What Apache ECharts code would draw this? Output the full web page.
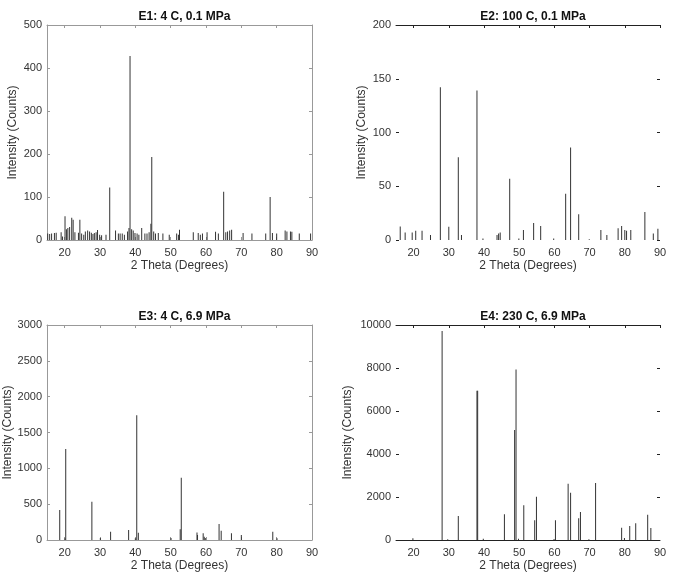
<!DOCTYPE html>
<html>
<head>
<meta charset="utf-8">
<script src="https://cdn.jsdelivr.net/npm/echarts@6/dist/echarts.min.js"></script>
<style>
  html, body { margin: 0; padding: 0; background: #fff; }
  #chart { width: 675px; height: 583px; }
</style>
</head>
<body>
<div id="chart"></div>
<script>
// peak positions (2 theta) and intensities
var titles = ['E1: 4 C, 0.1 MPa', 'E2: 100 C, 0.1 MPa', 'E3: 4 C, 6.9 MPa', 'E4: 230 C, 6.9 MPa'];
var xTicks = [20, 30, 40, 50, 60, 70, 80, 90];
var yMax = [500, 200, 3000, 10000];
var yStep = [100, 50, 500, 2000];

var theta1 = [15.2, 15.75, 16.3, 17.1, 17.6, 19.0, 19.4, 20.1, 20.5, 20.9, 21.4, 22.0, 22.4, 22.9, 23.9, 24.3, 24.8, 25.4, 25.85, 26.5,
  27.05, 27.55, 28.0, 28.4, 28.9, 29.3, 29.9, 30.45, 31.7, 32.75, 34.4, 35.2, 35.7, 36.3, 36.9, 37.8, 38.2, 38.5, 38.95, 39.4,
  39.9, 40.5, 41.0, 41.8, 42.7, 43.3, 43.9, 44.4, 44.65, 45.2, 45.7, 46.5, 47.8, 49.6, 51.7, 52.2, 52.5, 56.4, 57.8, 58.4,
  59.0, 60.3, 62.7, 63.5, 65.0, 65.6, 66.1, 66.7, 67.25, 70.5, 73.0, 76.9, 78.15, 78.8, 80.0, 82.4, 82.9, 83.9, 84.3, 86.4, 89.6];
var counts1 = [15, 14, 15, 16, 17, 18, 8, 55, 25, 28, 30, 52, 47, 18, 17, 47, 15, 12, 20, 22,
  20, 17, 14, 16, 18, 23, 12, 11, 12, 122, 22, 15, 15, 15, 12, 20, 28, 428, 25, 22,
  16, 15, 12, 28, 15, 15, 18, 38, 193, 20, 15, 16, 15, 12, 15, 12, 24, 18, 16, 12,
  15, 18, 19, 15, 112, 18, 20, 22, 24, 16, 15, 15, 100, 16, 15, 22, 20, 20, 19, 15, 15];

var theta2 = [16.2, 17.6, 19.6, 20.6, 22.4, 24.8, 27.6, 30.0, 32.7, 33.6, 38.0, 39.7, 43.7, 44.15, 44.6, 47.3, 49.9, 51.2, 54.1, 56.1,
  59.8, 63.2, 64.6, 66.9, 69.9, 73.2, 74.9, 78.1, 79.1, 80.0, 80.5, 81.7, 85.7, 88.1, 89.4];
var counts2 = [12.5, 7, 7, 8.5, 8.7, 4.7, 142, 12.4, 77, 4.7, 139, 1.5, 4.7, 6, 7, 57, 1.5, 9.3, 15.8, 13,
  1.5, 43, 86, 24, 0.6, 9.3, 4.7, 11, 13, 9.3, 8.7, 9.3, 26, 6, 10.5];

var theta3 = [18.6, 20.1, 20.3, 27.7, 30.1, 33.0, 38.1, 40.0, 40.4, 40.85, 50.1, 52.7, 53.0, 57.45, 57.6, 59.2, 59.5, 59.8, 63.7, 64.3,
  67.2, 70.0, 78.9, 80.1];
var counts3 = [419, 23, 1270, 535, 28, 115, 138, 23, 1740, 100, 28, 149, 870, 105, 70, 95, 46, 28, 223, 128,
  95, 70, 114, 23];

var theta4 = [19.8, 28.1, 29.7, 32.7, 38.0, 38.2, 39.8, 45.8, 48.7, 49.1, 49.8, 51.3, 54.4, 54.9, 59.9, 60.3, 63.9, 64.6, 66.9, 67.4,
  69.8, 71.7, 79.1, 79.9, 81.4, 83.1, 86.5, 87.4];
var counts4 = [80, 9720, 40, 1116, 6944, 6944, 60, 1194, 5115, 7936, 60, 1612, 915, 2015, 50, 915, 2620, 2200, 1008, 1302,
  30, 2650, 574, 93, 651, 775, 1178, 558];

var thetas = [theta1, theta2, theta3, theta4];
var counts = [counts1, counts2, counts3, counts4];

var grids = [
  {left: 47, top: 25, width: 265, height: 215},
  {left: 396, top: 25, width: 264, height: 215},
  {left: 47, top: 325, width: 265, height: 215},
  {left: 396, top: 325, width: 264, height: 215}
];
// panels 1 and 3 have a full grey box, panels 2 and 4 only dark rules
var boxed = [true, false, true, false];
var bottomLine = [true, false, true, true];
var nameGaps = [34, 34, 35, 48];

var font = 'Liberation Sans, Arial, Helvetica, sans-serif';
var labelColor = '#333';

var option = {
  backgroundColor: '#fff',
  animation: false,
  title: [],
  grid: [],
  xAxis: [],
  yAxis: [],
  series: []
};

for (var i = 0; i < 4; i++) {
  var g = grids[i];
  var boxColor = boxed[i] ? '#999' : '#222';
  option.grid.push({left: g.left, top: g.top, width: g.width, height: g.height, containLabel: false});
  option.title.push({
    text: titles[i],
    left: g.left + g.width / 2,
    top: g.top - 19,
    textAlign: 'center',
    textStyle: {fontFamily: font, fontSize: 12, fontWeight: 'bold', color: '#111'}
  });
  // bottom x axis with labels
  option.xAxis.push({
    type: 'value', gridIndex: i, min: 15, max: 90,
    name: '2 Theta (Degrees)', nameLocation: 'middle', nameGap: 20,
    nameTextStyle: {fontFamily: font, fontSize: 12, color: labelColor},
    axisLine: {show: bottomLine[i], onZero: false, lineStyle: {color: boxColor, width: 1}},
    axisTick: {show: boxed[i], inside: true, length: 3, customValues: xTicks, lineStyle: {color: boxColor}},
    axisLabel: {customValues: xTicks, margin: 7, fontFamily: font, fontSize: 11, color: labelColor},
    splitLine: {show: false}
  });
  // top x axis: line + ticks only
  option.xAxis.push({
    type: 'value', gridIndex: i, min: 15, max: 90, position: 'top',
    axisLine: {show: true, onZero: false, lineStyle: {color: boxColor, width: 1}},
    axisTick: {show: true, inside: true, length: 3, customValues: xTicks, lineStyle: {color: boxColor}},
    axisLabel: {show: false},
    splitLine: {show: false}
  });
  option.yAxis.push({
    type: 'value', gridIndex: i, min: 0, max: yMax[i], interval: yStep[i],
    name: 'Intensity (Counts)', nameLocation: 'middle', nameGap: nameGaps[i],
    nameTextStyle: {fontFamily: font, fontSize: 12, color: labelColor, verticalAlign: 'middle'},
    axisLine: {show: boxed[i], onZero: false, lineStyle: {color: boxColor, width: 1}},
    axisTick: {show: true, inside: true, length: 3, lineStyle: {color: boxColor}},
    axisLabel: {margin: 5, fontFamily: font, fontSize: 11, color: labelColor,
      formatter: function (v) { return String(v); }},
    splitLine: {show: false}
  });
  option.yAxis.push({
    type: 'value', gridIndex: i, min: 0, max: yMax[i], interval: yStep[i], position: 'right',
    axisLine: {show: boxed[i], onZero: false, lineStyle: {color: boxColor, width: 1}},
    axisTick: {show: true, inside: true, length: 3, lineStyle: {color: boxColor}},
    axisLabel: {show: false},
    splitLine: {show: false}
  });
  option.series.push({
    type: 'bar',
    xAxisIndex: i * 2,
    yAxisIndex: i * 2,
    barWidth: 1,
    itemStyle: {color: '#333'},
    data: thetas[i].map(function (t, k) { return [t, counts[i][k]]; })
  });
}

var chart = echarts.init(document.getElementById('chart'), null, {renderer: 'canvas'});
chart.setOption(option);
</script>
</body>
</html>
